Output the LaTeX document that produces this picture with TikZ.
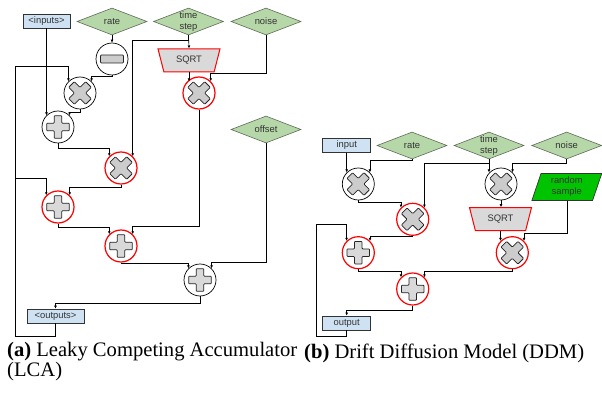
\documentclass[tikz,border=0pt]{standalone}
\usepackage{fontspec}
\setmainfont{Liberation Serif}
\newfontfamily\diagfont{Liberation Sans}
\usetikzlibrary{shapes.geometric,arrows.meta}
\definecolor{dgreen}{HTML}{B6D7A8}
\definecolor{dborder}{HTML}{5E6B58}
\definecolor{lblue}{HTML}{CFE2F3}
\definecolor{txt}{HTML}{333333}
\definecolor{glyphfill}{HTML}{CCCCCC}
\definecolor{sqfill}{HTML}{D9D9D9}
\definecolor{rgreen}{HTML}{00C400}
\definecolor{redc}{HTML}{FF0000}
\tikzset{
  dtext/.style={font=\diagfont\fontsize{9.4}{11}\selectfont, text=txt},
  inbox/.style={rectangle, draw=txt, line width=0.7pt, fill=lblue, inner sep=0pt, minimum height=14pt, dtext},
  param/.style={diamond, draw=dborder, line width=0.6pt, fill=dgreen, inner sep=0pt, minimum width=70pt, minimum height=27pt},
  op/.style={circle, draw=black, line width=0.7pt, fill=white, inner sep=0pt, minimum size=32pt},
  redop/.style={op, draw=redc, line width=1.2pt},
  glyph/.style={draw=black!85, fill=glyphfill, line width=0.75pt, rounded corners=0.8pt},
  xglyph/.style={path picture={\draw[glyph, shift={(path picture bounding box.center)}]
      (0,5.66) -- (-5.66,11.31) -- (-11.31,5.66) -- (-5.66,0) -- (-11.31,-5.66) -- (-5.66,-11.31) -- (0,-5.66) -- (5.66,-11.31) -- (11.31,-5.66) -- (5.66,0) -- (11.31,5.66) -- (5.66,11.31) -- cycle;}},
  pglyph/.style={path picture={\draw[glyph, fill=sqfill, shift={(path picture bounding box.center)}]
      (3.8,3.8) -- (3.8,11.3) -- (-3.8,11.3) -- (-3.8,3.8) -- (-11.3,3.8) -- (-11.3,-3.8) -- (-3.8,-3.8) -- (-3.8,-11.3) -- (3.8,-11.3) -- (3.8,-3.8) -- (11.3,-3.8) -- (11.3,3.8) -- cycle;}},
  mglyph/.style={path picture={\draw[glyph, shift={(path picture bounding box.center)}]
      (-11.5,-4) rectangle (11.5,4);}},
  sqrtbox/.style={trapezium, shape border rotate=180, trapezium left angle=70, trapezium right angle=70,
      trapezium stretches=true, minimum width=62pt, minimum height=23pt, inner sep=0pt,
      draw=redc, line width=1pt, fill=sqfill, dtext},
  randbox/.style={trapezium, trapezium left angle=74, trapezium right angle=106,
      trapezium stretches=true, minimum width=70pt, minimum height=27pt, inner sep=0pt,
      draw=txt, line width=0.7pt, fill=rgreen, dtext, align=center},
  arr/.style={draw=black, line width=0.6pt, -{Latex[length=3pt,width=2.8pt]}},
  captext/.style={font=\fontsize{20.6}{18}\selectfont, anchor=base west, inner sep=0pt, align=left}
}
\begin{document}
\begin{tikzpicture}[x=1pt,y=-1pt]
\useasboundingbox (0,0) rectangle (602,398);

% ---------- panel (a) ----------
\node[inbox, minimum width=47pt] (inA) at (46.5,21) {<inputs>};
\node[param, label={[dtext]center:rate}] (rateA) at (112,21.5) {};
\node[param, label={[dtext, align=center]center:time\\step}] (tsA) at (188.5,21.5) {};
\node[param, label={[dtext]center:noise}] (noiseA) at (266,21.5) {};
\node[param, label={[dtext]center:offset}] (offA) at (266,129.5) {};
\node[op, mglyph] (minA) at (112,59) {};
\node[op, xglyph] (m1A) at (80,93) {};
\node[sqrtbox] (sqrtA) at (189,60.5) {SQRT};
\node[redop, xglyph] (m2A) at (199,93) {};
\node[op, pglyph] (p1A) at (58,127) {};
\node[redop, xglyph] (m3A) at (121,168) {};
\node[redop, pglyph] (p2A) at (58,207) {};
\node[redop, pglyph] (p3A) at (121,246) {};
\node[op, pglyph] (p4A) at (200,280) {};
\node[inbox, minimum width=57pt] (outA) at (55.5,316) {<outputs>};
\coordinate (loopA) at (15,66);
\coordinate (branchA) at (15,178);

\draw[arr] (rateA.south) -- (minA.north);
\draw[arr] (minA.south) -- ++(0,1) -| (m1A.north east);
\draw[arr] (inA.south) -- (inA.south |- p1A.north west);
\draw[arr] (m1A.south) -- ++(0,2.5) -| (p1A.north east);
\draw[arr] (p1A.south) -- ++(0,5) -| (m3A.north west);
\draw[arr] (tsA.south) -- (sqrtA.north);
\draw[arr] (tsA.south) -- ++(0,5) -| (m3A.north east);
\draw[arr] (sqrtA.south) -- (sqrtA.south |- m2A.north west);
\draw[arr] (noiseA.south) -- (noiseA.south |- 0,73) -| (m2A.north east);
\draw[arr] (m2A.south) -- (m2A.south |- 0,226.7) -| (p3A.north east);
\draw[arr] (m3A.south) -- ++(0,3) -| (p2A.north east);
\draw[arr] (p2A.south) -- ++(0,3.5) -| (p3A.north west);
\draw[arr] (p3A.south) -- ++(0,0.7) -| (p4A.north west);
\draw[arr] (offA.south) -- (offA.south |- 0,262.7) -| (p4A.north east);
\draw[arr] (p4A.south) -- ++(0,7) -| (outA.north);
\draw[arr] (outA.south) -- ++(0,13) -| (loopA) -| (m1A.north west);
\draw[arr] (branchA) -| (p2A.north west);

% ---------- panel (b) ----------
\node[inbox, minimum width=48pt] (inB) at (346.7,145.5) {input};
\node[param, label={[dtext]center:rate}] (rateB) at (412,145.5) {};
\node[param, label={[dtext, align=center]center:time\\step}] (tsB) at (489,145.5) {};
\node[param, label={[dtext]center:noise}] (noiseB) at (566.7,145.5) {};
\node[op, xglyph] (m1B) at (358.3,184) {};
\node[op, xglyph] (m2B) at (501,184) {};
\node[randbox] (rsB) at (566.8,187) {random\\sample};
\node[redop, xglyph] (m3B) at (412.7,219.3) {};
\node[sqrtbox] (sqrtB) at (500.5,219.2) {SQRT};
\node[redop, pglyph] (p1B) at (358.3,252.7) {};
\node[redop, xglyph] (m4B) at (512.3,252.7) {};
\node[redop, pglyph] (p2B) at (412.7,289) {};
\node[inbox, minimum width=48pt] (outB) at (346.7,323) {output};
\coordinate (loopB) at (316,224.3);

\draw[arr] (inB.south) -- (inB.south |- m1B.north west);
\draw[arr] (rateB.south) -- (rateB.south |- 0,160) -| (m1B.north east);
\draw[arr] (m1B.south) -- ++(0,1.7) -| (m3B.north west);
\draw[arr] (tsB.south) -- (tsB.south |- 0,163.3) -| (m3B.north east);
\draw[arr] (tsB.south) -- (tsB.south |- m2B.north west);
\draw[arr] (noiseB.south) -- (noiseB.south |- 0,163.3) -| (m2B.north east);
\draw[arr] (m2B.south) -- (m2B.south |- sqrtB.north);
\draw[arr] (sqrtB.south) -- (sqrtB.south |- m4B.north west);
\draw[arr] (rsB.south) -- (rsB.south |- 0,233.3) -| (m4B.north east);
\draw[arr] (m3B.south) -- ++(0,0.7) -| (p1B.north east);
\draw[arr] (outB.south) -- ++(0,6) -| (loopB) -| (p1B.north west);
\draw[arr] (p1B.south) -- ++(0,2) -| (p2B.north west);
\draw[arr] (m4B.south) -- ++(0,2) -| (p2B.north east);
\draw[arr] (p2B.south) -- ++(0,5) -| (outB.north);

% ---------- captions ----------
\node[captext] (capA) at (7,376) {\textbf{(a)} Leaky Competing Accumulator\\(LCA)};
\node[captext] (capB) at (304,358) {\textbf{(b)} Drift Diffusion Model (DDM)};
\end{tikzpicture}
\end{document}
